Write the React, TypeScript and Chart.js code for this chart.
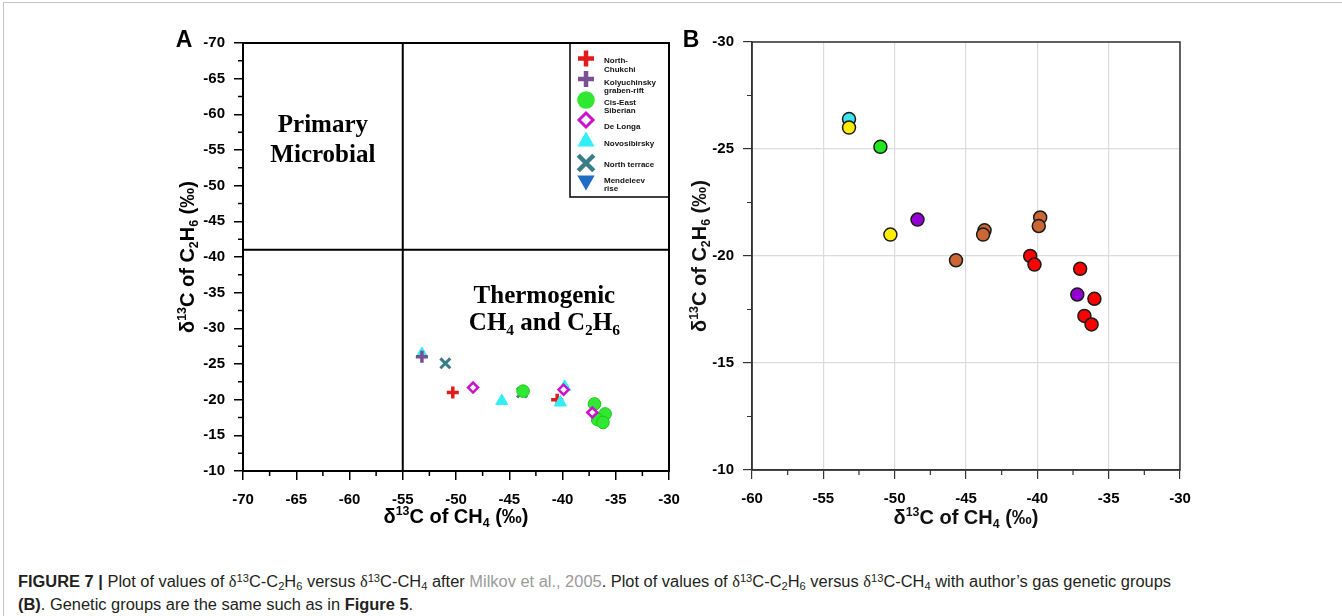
import React, { useEffect, useRef } from 'react';
import { Chart, registerables } from 'chart.js';

Chart.register(...registerables);

// ---------------- Axis ranges ----------------
const A_CH4_MIN = -70;
const A_CH4_MAX = -30;
const A_C2H6_MIN = -70;
const A_C2H6_MAX = -10;
const B_CH4_MIN = -60;
const B_CH4_MAX = -30;
const B_C2H6_MIN = -30;
const B_C2H6_MAX = -10;
const TICK_STEP = 5;
const MINOR_STEP = 2.5;
// Milkov (2005) field boundaries in panel A
const A_BOUNDARY_CH4 = -55;
const A_BOUNDARY_C2H6 = -41;

// ---------------- Panel A data (by basin) ----------------
const northChukchiCH4 = [-50.3, -40.5];
const northChukchiC2H6 = [-21.0, -20.0];
const kolyuchinskyCH4 = [-53.2];
const kolyuchinskyC2H6 = [-26.0];
const cisEastSiberianCH4 = [-43.7, -37.0, -36.0, -36.7, -36.2];
const cisEastSiberianC2H6 = [-21.2, -19.4, -18.0, -17.2, -16.8];
const deLongaCH4 = [-48.4, -39.9, -37.2];
const deLongaC2H6 = [-21.7, -21.4, -18.2];
const novosibirskyCH4 = [-53.2, -45.7, -39.8, -40.2];
const novosibirskyC2H6 = [-26.4, -19.8, -21.8, -19.6];
const northTerraceCH4 = [-51.0, -43.8];
const northTerraceC2H6 = [-25.1, -21.0];
const mendeleevRiseCH4: number[] = [];
const mendeleevRiseC2H6: number[] = [];

// ---------------- Panel B data (by author's genetic group) ----------------
const cyanGroupCH4 = [-53.2];
const cyanGroupC2H6 = [-26.4];
const yellowGroupCH4 = [-53.2, -50.3];
const yellowGroupC2H6 = [-26.0, -21.0];
const greenGroupCH4 = [-51.0];
const greenGroupC2H6 = [-25.1];
const violetGroupCH4 = [-48.4, -37.2];
const violetGroupC2H6 = [-21.7, -18.2];
const brownGroupCH4 = [-45.7, -43.7, -43.8, -39.8, -39.9];
const brownGroupC2H6 = [-19.8, -21.2, -21.0, -21.8, -21.4];
const redGroupCH4 = [-40.5, -40.2, -37.0, -36.0, -36.7, -36.2];
const redGroupC2H6 = [-20.0, -19.6, -19.4, -18.0, -17.2, -16.8];

// ---------------- Text ----------------
type Seg = { t: string; k?: 'sup' | 'sub' };
const X_TITLE: Seg[] = [{ t: 'δ' }, { t: '13', k: 'sup' }, { t: 'C of CH' }, { t: '4', k: 'sub' }, { t: ' (‰)' }];
const Y_TITLE: Seg[] = [
  { t: 'δ' }, { t: '13', k: 'sup' }, { t: 'C of C' }, { t: '2', k: 'sub' }, { t: 'H' }, { t: '6', k: 'sub' }, { t: ' (‰)' },
];
const PRIMARY_LINES = ['Primary', 'Microbial'];
const THERMO_LINE1: Seg[] = [{ t: 'Thermogenic' }];
const THERMO_LINE2: Seg[] = [{ t: 'CH' }, { t: '4', k: 'sub' }, { t: ' and C' }, { t: '2', k: 'sub' }, { t: 'H' }, { t: '6', k: 'sub' }];

const SANS = "'Liberation Sans', Arial, Helvetica, sans-serif";
const SERIF = "'Liberation Serif', 'Times New Roman', serif";

const pts = (xs: number[], ys: number[]) => xs.map((x, i) => ({ x, y: ys[i] }));

function segFont(size: number, weight: string, family: string, k?: string) {
  const s = k ? size * 0.62 : size;
  return `${weight} ${s}px ${family}`;
}
function richWidth(ctx: CanvasRenderingContext2D, segs: Seg[], size: number, weight: string, family: string) {
  let w = 0;
  for (const s of segs) {
    ctx.font = segFont(size, weight, family, s.k);
    w += ctx.measureText(s.t).width;
  }
  return w;
}
function drawRich(
  ctx: CanvasRenderingContext2D, segs: Seg[], cx: number, baseline: number,
  size: number, weight: string, family: string, color: string,
) {
  const w = richWidth(ctx, segs, size, weight, family);
  let x = cx - w / 2;
  ctx.fillStyle = color;
  ctx.textAlign = 'left';
  ctx.textBaseline = 'alphabetic';
  for (const s of segs) {
    ctx.font = segFont(size, weight, family, s.k);
    const dy = s.k === 'sup' ? -size * 0.42 : s.k === 'sub' ? size * 0.22 : 0;
    ctx.fillText(s.t, x, baseline + dy);
    x += ctx.measureText(s.t).width;
  }
}

function drawShape(
  ctx: CanvasRenderingContext2D, style: string, x: number, y: number, r: number,
  fill: string, stroke: string, lw: number, rotation = 0,
) {
  ctx.save();
  ctx.translate(x, y);
  ctx.rotate((rotation * Math.PI) / 180);
  ctx.beginPath();
  let fillable = true;
  if (style === 'circle') {
    ctx.arc(0, 0, r, 0, Math.PI * 2);
  } else if (style === 'cross') {
    ctx.moveTo(-r, 0); ctx.lineTo(r, 0); ctx.moveTo(0, -r); ctx.lineTo(0, r);
    fillable = false;
  } else if (style === 'crossRot') {
    const d = r * Math.SQRT1_2;
    ctx.moveTo(-d, -d); ctx.lineTo(d, d); ctx.moveTo(d, -d); ctx.lineTo(-d, d);
    fillable = false;
  } else if (style === 'rectRot') {
    ctx.moveTo(0, -r); ctx.lineTo(r, 0); ctx.lineTo(0, r); ctx.lineTo(-r, 0); ctx.closePath();
  } else if (style === 'triangle') {
    ctx.moveTo(0, -r); ctx.lineTo(r * 0.866, r * 0.5); ctx.lineTo(-r * 0.866, r * 0.5); ctx.closePath();
  }
  if (fillable) { ctx.fillStyle = fill; ctx.fill(); }
  if (lw > 0) { ctx.strokeStyle = stroke; ctx.lineWidth = lw; ctx.stroke(); }
  ctx.restore();
}

function drawMinorTicks(chart: any, len: number, color: string, lw: number) {
  const { ctx, chartArea: ca, scales } = chart;
  const x = scales.x;
  const y = scales.y;
  ctx.save();
  ctx.strokeStyle = color;
  ctx.lineWidth = lw;
  ctx.beginPath();
  for (let v = x.min + MINOR_STEP; v < x.max; v += TICK_STEP) {
    const px = x.getPixelForValue(v);
    ctx.moveTo(px, ca.bottom); ctx.lineTo(px, ca.bottom + len);
  }
  for (let v = y.min + MINOR_STEP; v < y.max; v += TICK_STEP) {
    const py = y.getPixelForValue(v);
    ctx.moveTo(ca.left - len, py); ctx.lineTo(ca.left, py);
  }
  ctx.stroke();
  ctx.restore();
}

function drawAxisTitles(chart: any, xBase: number, yBase: number, color: string) {
  const { ctx, chartArea: ca } = chart;
  ctx.save();
  drawRich(ctx, X_TITLE, (ca.left + ca.right) / 2, ca.bottom + xBase, 20, 'bold', SANS, color);
  ctx.translate(ca.left - yBase, (ca.top + ca.bottom) / 2);
  ctx.rotate(-Math.PI / 2);
  drawRich(ctx, Y_TITLE, 0, 0, 20, 'bold', SANS, color);
  ctx.restore();
}

function drawPanelLetter(chart: any, letter: string, dx: number, dy: number) {
  const { ctx, chartArea: ca } = chart;
  ctx.save();
  ctx.font = `bold 23px ${SANS}`;
  ctx.fillStyle = '#000';
  ctx.textAlign = 'center';
  ctx.textBaseline = 'alphabetic';
  ctx.fillText(letter, ca.left - dx, ca.top + dy);
  ctx.restore();
}

// ---------------- Panel A plugin ----------------
const panelAPlugin = {
  id: 'panelADecor',
  beforeDatasetsDraw(chart: any) {
    const { ctx, chartArea: ca, scales } = chart;
    ctx.save();
    ctx.strokeStyle = '#000';
    ctx.lineWidth = 2;
    ctx.strokeRect(ca.left, ca.top, ca.right - ca.left, ca.bottom - ca.top);
    const bx = scales.x.getPixelForValue(A_BOUNDARY_CH4);
    const by = scales.y.getPixelForValue(A_BOUNDARY_C2H6);
    ctx.beginPath();
    ctx.moveTo(bx, ca.top); ctx.lineTo(bx, ca.bottom);
    ctx.moveTo(ca.left, by); ctx.lineTo(ca.right, by);
    ctx.stroke();
    ctx.restore();
  },
  afterDraw(chart: any) {
    const { ctx, chartArea: ca, scales } = chart;
    const x = scales.x;
    const y = scales.y;
    drawMinorTicks(chart, 5, '#000', 1.5);

    // field labels
    ctx.save();
    ctx.font = `bold 25px ${SERIF}`;
    ctx.fillStyle = '#000';
    ctx.textAlign = 'center';
    ctx.textBaseline = 'alphabetic';
    const pcx = x.getPixelForValue(-62.5);
    ctx.fillText(PRIMARY_LINES[0], pcx, y.getPixelForValue(-57.5));
    ctx.fillText(PRIMARY_LINES[1], pcx, y.getPixelForValue(-53.3));
    ctx.restore();
    ctx.save();
    const tcx = x.getPixelForValue(-41.7);
    drawRich(ctx, THERMO_LINE1, tcx, y.getPixelForValue(-33.6), 25, 'bold', SERIF, '#000');
    drawRich(ctx, THERMO_LINE2, tcx, y.getPixelForValue(-29.8), 25, 'bold', SERIF, '#000');
    ctx.restore();

    // legend box
    const lRight = ca.right;
    const lLeft = ca.right - 99;
    const lTop = ca.top;
    const lBottom = ca.top + 154;
    ctx.save();
    ctx.strokeStyle = '#000';
    ctx.lineWidth = 1.5;
    ctx.strokeRect(lLeft, lTop, lRight - lLeft, lBottom - lTop);
    const markerOffsets = [15.5, 36, 57, 77, 98.5, 120, 137.5];
    const textOffsets = [[18, 27], [39.5, 48], [59.5, 68], [83.5], [101], [122], [137.5, 146]];
    const markerX = lRight - 83;
    const textX = lRight - 65;
    chart.data.datasets.forEach((ds: any, i: number) => {
      const my = lTop + markerOffsets[i];
      drawShape(ctx, ds.pointStyle, markerX, my, ds.legendR, ds.pointBackgroundColor, ds.pointBorderColor, ds.legendLW, ds.pointRotation || 0);
      ctx.font = `bold 8px ${SANS}`;
      ctx.fillStyle = '#111';
      ctx.textAlign = 'left';
      ctx.textBaseline = 'middle';
      ds.legendLines.forEach((line: string, j: number) => {
        ctx.fillText(line, textX, lTop + textOffsets[i][j]);
      });
    });
    ctx.restore();

    drawAxisTitles(chart, 52, 49, '#000');
    drawPanelLetter(chart, 'A', 59, 4);
  },
};

// ---------------- Panel B plugin ----------------
const panelBPlugin = {
  id: 'panelBDecor',
  beforeDatasetsDraw(chart: any) {
    const { ctx, chartArea: ca } = chart;
    ctx.save();
    ctx.strokeStyle = '#333';
    ctx.lineWidth = 1.5;
    ctx.strokeRect(ca.left, ca.top, ca.right - ca.left, ca.bottom - ca.top);
    ctx.restore();
  },
  afterDraw(chart: any) {
    drawMinorTicks(chart, 5, '#333', 1.2);
    drawAxisTitles(chart, 54, 46, '#111');
    drawPanelLetter(chart, 'B', 61, 5);
  },
};

const tickFont = { family: SANS, size: 15, weight: 'bold' as const };

function scaleOpts(min: number, max: number, reverse: boolean, isY: boolean, dark: string, gridOnArea: boolean) {
  return {
    type: 'linear' as const,
    min,
    max,
    reverse,
    ticks: {
      stepSize: TICK_STEP,
      color: '#000',
      font: tickFont,
      padding: isY ? 9 : 11,
      maxRotation: 0,
      autoSkip: false,
    },
    grid: {
      drawOnChartArea: gridOnArea,
      color: gridOnArea ? '#dcdcdc' : dark,
      tickColor: dark,
      tickLength: 9,
      lineWidth: gridOnArea ? 1.2 : 1.5,
    },
    border: { display: true, color: dark, width: dark === '#000' ? 2 : 1.5 },
    afterFit: (s: any) => {
      if (isY) s.width = 50;
      else s.height = 40;
    },
  };
}

function circleSet(data: any[], color: string, order: number) {
  return {
    data,
    pointStyle: 'circle',
    pointRadius: 6.5,
    pointBackgroundColor: color,
    pointBorderColor: '#1a1a1a',
    pointBorderWidth: 1.5,
    order,
  };
}

export default function App() {
  const refA = useRef<HTMLCanvasElement>(null);
  const refB = useRef<HTMLCanvasElement>(null);
  const capRef = useRef<HTMLDivElement>(null);
  const capLineRef = useRef<HTMLSpanElement>(null);

  useEffect(() => {
    const datasetsA: any[] = [
      {
        label: 'North-Chukchi', data: pts(northChukchiCH4, northChukchiC2H6),
        pointStyle: 'cross', pointRadius: 6, pointBorderWidth: 3.5,
        pointBackgroundColor: '#e31a1c', pointBorderColor: '#e31a1c', order: 3,
        legendLines: ['North-', 'Chukchi'], legendR: 8, legendLW: 4.5,
      },
      {
        label: 'Kolyuchinsky graben-rift', data: pts(kolyuchinskyCH4, kolyuchinskyC2H6),
        pointStyle: 'cross', pointRadius: 6, pointBorderWidth: 3.5,
        pointBackgroundColor: '#7b4f93', pointBorderColor: '#7b4f93', order: 1,
        legendLines: ['Kolyuchinsky', 'graben-rift'], legendR: 8, legendLW: 4.5,
      },
      {
        label: 'Cis-East Siberian', data: pts(cisEastSiberianCH4, cisEastSiberianC2H6),
        pointStyle: 'circle', pointRadius: 6.3, pointBorderWidth: 1,
        pointBackgroundColor: '#2fe82f', pointBorderColor: '#22c422', order: 4,
        legendLines: ['Cis-East', 'Siberian'], legendR: 8.8, legendLW: 0,
      },
      {
        label: 'De Longa', data: pts(deLongaCH4, deLongaC2H6),
        pointStyle: 'rectRot', pointRadius: 5, pointBorderWidth: 2.5,
        pointBackgroundColor: '#ffffff', pointBorderColor: '#cc11cc', order: 0,
        legendLines: ['De Longa'], legendR: 7, legendLW: 3,
      },
      {
        label: 'Novosibirsky', data: pts(novosibirskyCH4, novosibirskyC2H6),
        pointStyle: 'triangle', pointRadius: 7, pointBorderWidth: 1,
        pointBackgroundColor: '#33eef5', pointBorderColor: '#33eef5', order: 2,
        legendLines: ['Novosibirsky'], legendR: 10, legendLW: 0,
      },
      {
        label: 'North terrace', data: pts(northTerraceCH4, northTerraceC2H6),
        pointStyle: 'crossRot', pointRadius: 7, pointBorderWidth: 3,
        pointBackgroundColor: '#3a7d86', pointBorderColor: '#3a7d86', order: 5,
        legendLines: ['North terrace'], legendR: 11, legendLW: 4.5,
      },
      {
        label: 'Mendeleev rise', data: pts(mendeleevRiseCH4, mendeleevRiseC2H6),
        pointStyle: 'triangle', pointRotation: 180, pointRadius: 7, pointBorderWidth: 1,
        pointBackgroundColor: '#1f6cc4', pointBorderColor: '#1f6cc4', order: 6,
        legendLines: ['Mendeleev', 'rise'], legendR: 10, legendLW: 0,
      },
    ];

    const chartA = new Chart(refA.current as HTMLCanvasElement, {
      type: 'scatter',
      data: { datasets: datasetsA },
      options: {
        animation: false,
        responsive: false,
        devicePixelRatio: 1,
        layout: { padding: { left: 193, right: 31, top: 43, bottom: 29 } },
        plugins: { legend: { display: false }, tooltip: { enabled: false } },
        scales: {
          x: scaleOpts(A_CH4_MIN, A_CH4_MAX, false, false, '#000', false),
          y: scaleOpts(A_C2H6_MIN, A_C2H6_MAX, true, true, '#000', false),
        },
      } as any,
      plugins: [panelAPlugin],
    });

    const chartB = new Chart(refB.current as HTMLCanvasElement, {
      type: 'scatter',
      data: {
        datasets: [
          circleSet(pts(yellowGroupCH4, yellowGroupC2H6), '#ffee00', 0),
          circleSet(pts(cyanGroupCH4, cyanGroupC2H6), '#3fe3ee', 1),
          circleSet(pts(greenGroupCH4, greenGroupC2H6), '#1fe81f', 2),
          circleSet(pts(violetGroupCH4, violetGroupC2H6), '#9400d3', 3),
          circleSet(pts(brownGroupCH4, brownGroupC2H6), '#cc6633', 4),
          circleSet(pts(redGroupCH4, redGroupC2H6), '#ff0000', 5),
        ] as any,
      },
      options: {
        animation: false,
        responsive: false,
        devicePixelRatio: 1,
        layout: { padding: { left: 22, right: 60, top: 42, bottom: 30 } },
        plugins: { legend: { display: false }, tooltip: { enabled: false } },
        scales: {
          x: scaleOpts(B_CH4_MIN, B_CH4_MAX, false, false, '#333', true),
          y: scaleOpts(B_C2H6_MIN, B_C2H6_MAX, true, true, '#333', true),
        },
      } as any,
      plugins: [panelBPlugin],
    });

    // fit caption to the reference line width
    if (capRef.current && capLineRef.current) {
      const w = capLineRef.current.getBoundingClientRect().width;
      if (w > 0) {
        capRef.current.style.transform = `scaleX(${1153 / w})`;
      }
    }

    return () => {
      chartA.destroy();
      chartB.destroy();
    };
  }, []);

  const sup = { fontSize: '0.68em', position: 'relative' as const, top: '-0.5em' };
  const sub = { fontSize: '0.68em', position: 'relative' as const, top: '0.25em' };
  const d = <span style={{ fontFamily: SERIF }}>δ</span>;

  return (
    <div style={{ position: 'absolute', left: 0, top: 0, width: 1342, height: 616, overflow: 'hidden', background: '#fff' }}>
      <div
        style={{
          position: 'absolute', left: 3, top: 2, width: 1400, height: 700,
          borderLeft: '1px solid #c4c4c4', borderTop: '1px solid #c4c4c4',
        }}
      />
      <canvas ref={refA} width={700} height={540} style={{ position: 'absolute', left: 0, top: 0 }} />
      <canvas ref={refB} width={560} height={540} style={{ position: 'absolute', left: 680, top: 0 }} />
      <div
        ref={capRef}
        style={{
          position: 'absolute', left: 18, top: 571, fontFamily: SANS, fontSize: 16, lineHeight: '21px',
          color: '#231f20', whiteSpace: 'nowrap', transformOrigin: 'left top',
        }}
      >
        <div>
          <span ref={capLineRef} style={{ display: 'inline-block' }}>
            <b>FIGURE 7 |</b> Plot of values of {d}<span style={sup}>13</span>C-C<span style={sub}>2</span>H<span style={sub}>6</span> versus {d}<span style={sup}>13</span>C-CH<span style={sub}>4</span> after{' '}
            <span style={{ color: '#9a9a9a' }}>Milkov et al., 2005</span>. Plot of values of {d}<span style={sup}>13</span>C-C<span style={sub}>2</span>H<span style={sub}>6</span> versus {d}<span style={sup}>13</span>C-CH<span style={sub}>4</span> with author’s gas genetic groups
          </span>
        </div>
        <div>
          <b>(B)</b>. Genetic groups are the same such as in <b>Figure 5</b>.
        </div>
      </div>
    </div>
  );
}
